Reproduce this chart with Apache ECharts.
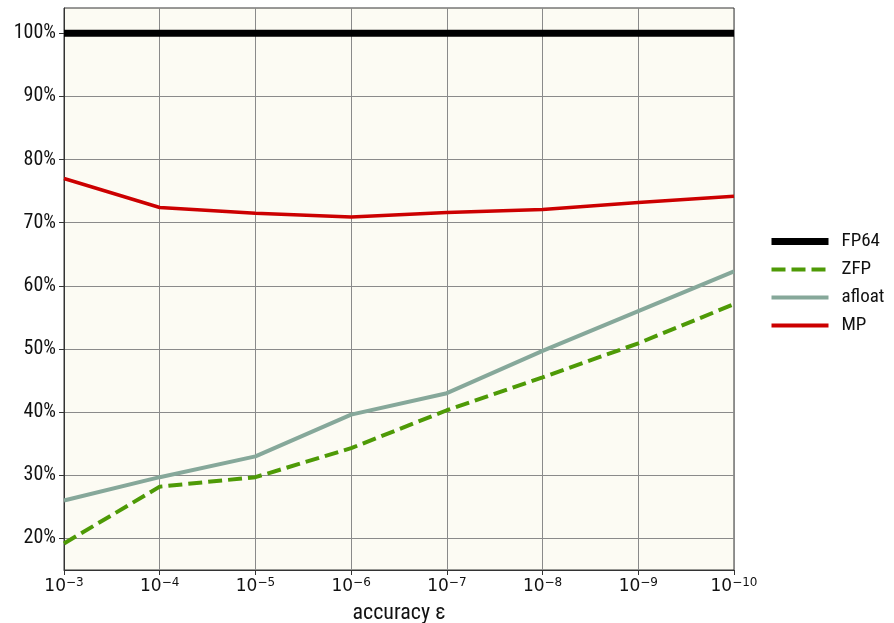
<!DOCTYPE html>
<html><head><meta charset="utf-8">
<script src="https://cdn.jsdelivr.net/npm/echarts@6/dist/echarts.min.js"></script>
<style>html,body{margin:0;padding:0;background:#fff}#c{width:894px;height:623px}</style>
</head><body><div id="c"></div>
<script>
const exponents = ['3','4','5','6','7','8','9','10'];
const yTicks = [20,30,40,50,60,70,80,90,100];
const fp64 = [100,100,100,100,100,100,100,100];
const zfp = [19.2,28.2,29.7,34.3,40.3,45.5,50.9,57.1];
const afloat = [26.0,29.7,33.0,39.6,43.0,49.7,56.0,62.3];
const mp = [77.0,72.4,71.5,70.9,71.6,72.1,73.2,74.2];

const condFont = '"Liberation Sans Narrow","Roboto Condensed",Roboto,sans-serif';
const hidden = {color:'rgba(0,0,0,0)',borderWidth:0,opacity:0};
const chart = echarts.init(document.getElementById('c'), null, {renderer:'canvas'});
chart.setOption({
  animation:false,
  backgroundColor:'#ffffff',
  grid:{left:64,right:160,top:8,bottom:53,show:true,backgroundColor:'#fcfbf3',borderColor:'#333',borderWidth:1,containLabel:false,outerBoundsMode:'none'},
  legend:{
    orient:'vertical',left:768,top:232,itemWidth:57,itemHeight:14,itemGap:9,padding:0,
    textStyle:{fontFamily:condFont,fontSize:19,color:'#111',padding:[0,0,0,8]},
    data:[
      {name:'FP64',itemStyle:hidden,lineStyle:{width:7,color:'#000'}},
      {name:'ZFP',itemStyle:hidden,lineStyle:{width:4,color:'#4e9a06',type:[14,6]}},
      {name:'afloat',itemStyle:hidden,lineStyle:{width:4,color:'#86a89a'}},
      {name:'MP',itemStyle:hidden,lineStyle:{width:4,color:'#cc0000'}}
    ]
  },
  xAxis:{
    type:'category',boundaryGap:false,data:exponents,
    axisLine:{show:true,lineStyle:{color:'#333',width:1}},
    axisTick:{show:true,length:5,lineStyle:{color:'#333'}},
    axisLabel:{
      margin:7,
      formatter:function(v){return '{b|10}{s|\u2212'+v+'}';},
      rich:{
        b:{fontFamily:'DejaVu Sans',fontSize:17,color:'#111'},
        s:{fontFamily:'DejaVu Sans',fontSize:12,color:'#111',padding:[0,0,8,0]}
      }
    },
    splitLine:{show:true,lineStyle:{color:'#8a8a8a',width:1}},
    name:'accuracy \u03b5',nameLocation:'middle',nameGap:32,
    nameTextStyle:{fontFamily:condFont,fontSize:22,color:'#111'}
  },
  yAxis:{
    type:'value',min:15,max:104,
    axisLine:{show:true,lineStyle:{color:'#333',width:1}},
    axisTick:{show:true,length:5,lineStyle:{color:'#333'},customValues:yTicks},
    axisLabel:{customValues:yTicks,formatter:function(v){return v+'%';},fontFamily:condFont,fontSize:20,color:'#111',margin:8},
    splitLine:{show:true,lineStyle:{color:'#8a8a8a',width:1}}
  },
  series:[
    {name:'FP64',type:'line',data:fp64,symbol:'none',color:'#000',lineStyle:{color:'#000',width:7},z:5},
    {name:'ZFP',type:'line',data:zfp,symbol:'none',color:'#4e9a06',lineStyle:{color:'#4e9a06',width:4,type:[14,6]},z:3},
    {name:'afloat',type:'line',data:afloat,symbol:'none',color:'#86a89a',lineStyle:{color:'#86a89a',width:4},z:2},
    {name:'MP',type:'line',data:mp,symbol:'none',color:'#cc0000',lineStyle:{color:'#cc0000',width:3.5},z:4}
  ]
});
</script></body></html>
